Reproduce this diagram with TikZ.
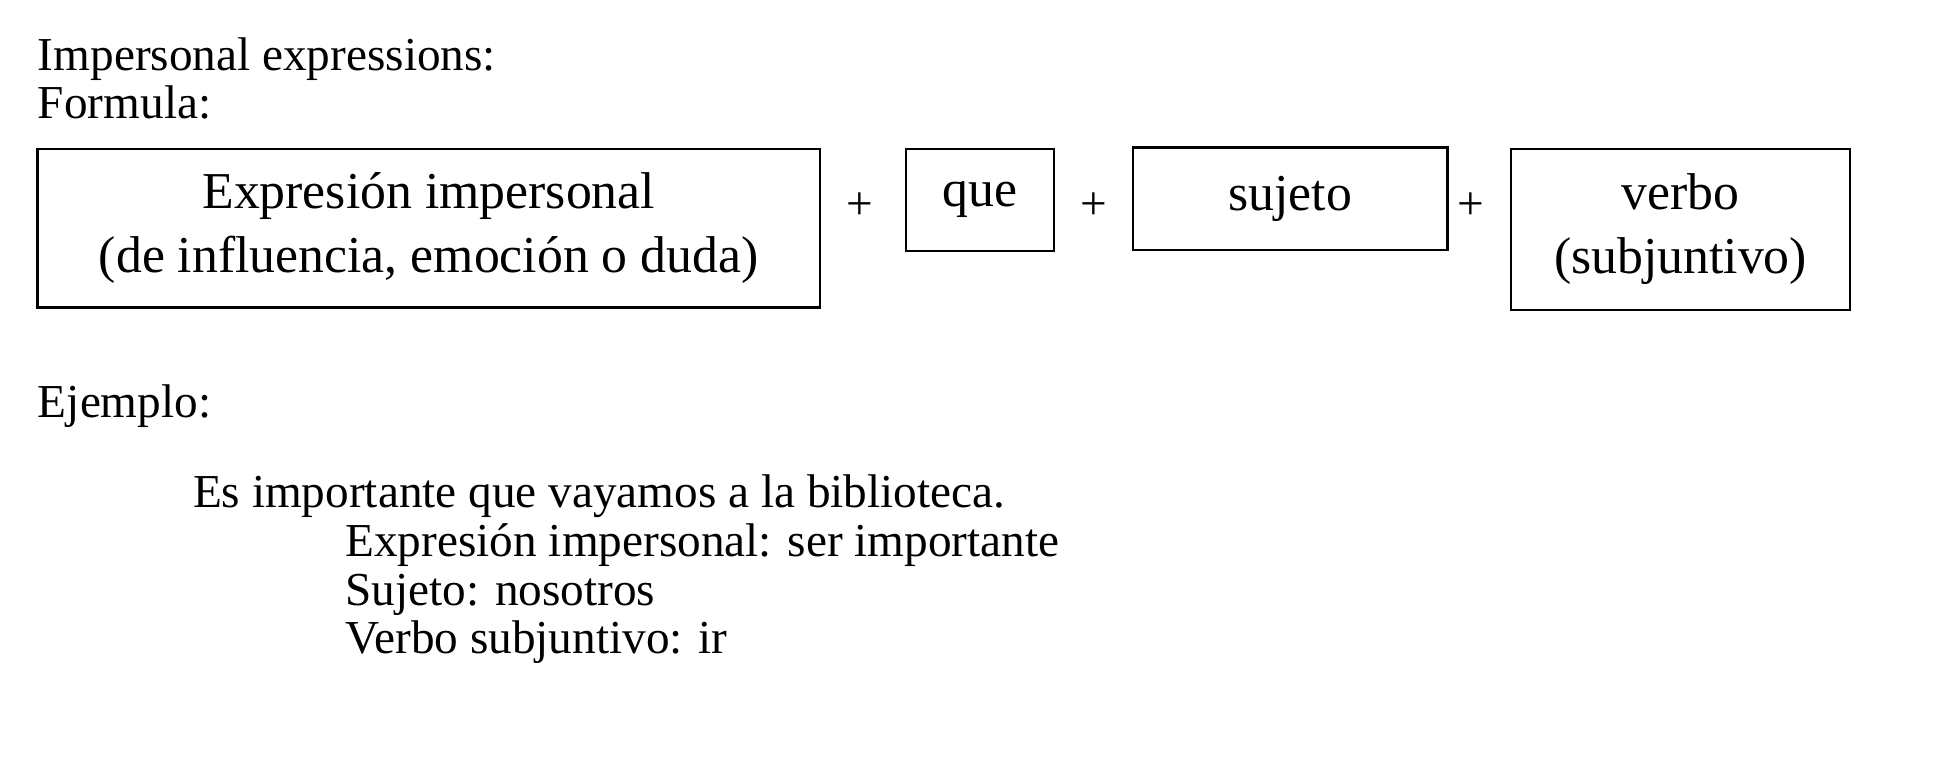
\documentclass[tikz,border=0pt]{standalone}
\usepackage{fontspec}
\setmainfont{Liberation Serif}
\usepackage{tikz}
\newcommand{\bodysize}{\fontsize{18.9}{19.5}\selectfont}
\newcommand{\boxsize}{\fontsize{20.7}{25.5}\selectfont}
\tikzset{
  formbox/.style={draw, line width=0.9pt, font=\boxsize, align=center, inner sep=0pt},
  textline/.style={anchor=base west, font=\bodysize, inner sep=0pt}
}
\begin{document}
\begin{tikzpicture}[x=0.5pt,y=-0.5pt]
    \useasboundingbox (0,0) rectangle (1558.4,612.8);
    \node[textline] (title) at (30,56) {Impersonal expressions:};
    \node[textline] (formula) at (30,95) {Formula:};
    \node[formbox, minimum width=313.1pt, minimum height=63.5pt] (expr) at (343,182.5)
      {Expresión impersonal\\(de influencia, emoción o duda)};
    \node[formbox, minimum width=59.2pt, minimum height=41pt] (que) at (783.8,160) {que};
    \node[formbox, minimum width=125.7pt, minimum height=41pt] (sujeto) at (1032.3,159) {sujeto};
    \node[formbox, minimum width=135.7pt, minimum height=64.5pt] (verbo) at (1344.4,183.5)
      {verbo\\(subjuntivo)};
    \foreach \x/\n in {688/plusa,875/plusb,1177/plusc}{
      \node[font=\bodysize, inner sep=0pt] (\n) at (\x,165) {+};
    };
    \node[textline] (ejemplo) at (30,334) {Ejemplo:};
    \node[textline] (frase) at (154,406) {Es importante que vayamos a la biblioteca.};
    \node[textline] (expres) at (276,445) {Expresión impersonal: ser importante};
    \node[textline] (suj) at (276,484) {Sujeto: nosotros};
    \node[textline] (verb) at (276,523) {Verbo subjuntivo: ir};
  \end{tikzpicture}
\end{document}
